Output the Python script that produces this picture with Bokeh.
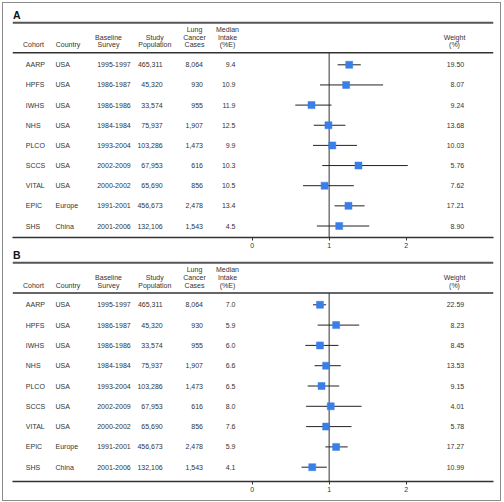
from bokeh.plotting import figure
from bokeh.models import Range1d, LinearAxis, FixedTicker, Span
from bokeh.layouts import column
from bokeh.core.properties import value
from bokeh.embed import file_html
from bokeh.resources import INLINE

# ---------------- data ----------------
cohorts = ["AARP", "HPFS", "IWHS", "NHS", "PLCO", "SCCS", "VITAL", "EPIC", "SHS"]
countries = ["USA", "USA", "USA", "USA", "USA", "USA", "USA", "Europe", "China"]
surveys = ["1995-1997", "1986-1987", "1986-1986", "1984-1984", "1993-2004",
           "2002-2009", "2000-2002", "1991-2001", "2001-2006"]
populations = ["465,311", "45,320", "33,574", "75,937", "103,286",
               "67,953", "65,690", "456,673", "132,106"]
cases = ["8,064", "930", "955", "1,907", "1,473", "616", "856", "2,478", "1,543"]

intake_a = ["9.4", "10.9", "11.9", "12.5", "9.9", "10.3", "10.5", "13.4", "4.5"]
weight_a = ["19.50", "8.07", "9.24", "13.68", "10.03", "5.76", "7.62", "17.21", "8.90"]
rr_a = [1.26, 1.22, 0.77, 0.99, 1.04, 1.38, 0.94, 1.25, 1.13]
lo_a = [1.11, 0.88, 0.56, 0.80, 0.79, 0.91, 0.66, 1.07, 0.84]
hi_a = [1.41, 1.70, 1.03, 1.21, 1.36, 2.02, 1.32, 1.46, 1.52]

intake_b = ["7.0", "5.9", "6.0", "6.6", "6.5", "8.0", "7.6", "5.9", "4.1"]
weight_b = ["22.59", "8.23", "8.45", "13.53", "9.15", "4.01", "5.78", "17.27", "10.99"]
rr_b = [0.88, 1.09, 0.88, 0.96, 0.90, 1.02, 0.96, 1.09, 0.78]
lo_b = [0.79, 0.85, 0.69, 0.81, 0.72, 0.70, 0.70, 0.95, 0.64]
hi_b = [0.96, 1.39, 1.12, 1.15, 1.13, 1.42, 1.29, 1.24, 0.97]

axis_ticks = [0, 1, 2]
null_effect = 1

headers = [["Cohort"], ["Country"], ["Baseline", "Survey"], ["Study", "Population"],
           ["Lung", "Cancer", "Cases"], ["Median", "Intake", "(%E)"], ["Weight", "(%)"]]

# ---------------- layout / style (page pixels) ----------------
FONT = "Liberation Sans"
FS = "7px"
TXT = "#333333"
BLUE = "#3a7ee8"
PX_PER_UNIT = 77.0
ZERO_PX = 251.7
OX, OY = 3, 3            # page offset of the whole layout (room for the frame line)
RIGHT, BOTTOM = 500, 500  # page right / bottom of the layout
FRAME_L, FRAME_R = 12, 493
head_x = [33, 67.5, 108, 154.3, 194, 227, 454]
col_x = [25.3, 55, 96.7, 162.2, 202.5, 235, 463.7]
col_align = ["left", "left", "left", "right", "right", "right", "right"]
HEAD_LINE = 7.7

panels = [
    dict(letter="A", top=OY, bottom=250, letter_y=14.3, rule_top=22.3, head_base=44.2,
         rule_head=52.3, row0=64.3, step=20.15, axis=237,
         intake=intake_a, weight=weight_a, rr=rr_a, lo=lo_a, hi=hi_a),
    dict(letter="B", top=250, bottom=BOTTOM, letter_y=254.2, rule_top=262.3, head_base=284.7,
         rule_head=292.5, row0=304.3, step=20.3, axis=481,
         intake=intake_b, weight=weight_b, rr=rr_b, lo=lo_b, hi=hi_b),
]


def make_panel(cfg):
    def u(px):
        return (px - cfg["row0"]) / cfg["step"]

    height = cfg["bottom"] - cfg["top"]
    mbb = cfg["bottom"] - cfg["axis"]
    p = figure(width=RIGHT - OX, height=height,
               x_range=Range1d(FRAME_L, FRAME_R),
               y_range=Range1d(u(cfg["axis"]), u(cfg["top"])),
               output_backend="svg", toolbar_location=None,
               x_axis_location=None, y_axis_location=None,
               min_border_left=FRAME_L - OX, min_border_right=RIGHT - FRAME_R,
               min_border_top=0, min_border_bottom=mbb,
               outline_line_color=None, background_fill_color="white",
               border_fill_color="white")
    p.grid.visible = False
    p.extra_x_ranges = {"hr": Range1d((FRAME_L - ZERO_PX) / PX_PER_UNIT,
                                      (FRAME_R - ZERO_PX) / PX_PER_UNIT)}

    ax = LinearAxis(x_range_name="hr", ticker=FixedTicker(ticks=axis_ticks),
                    axis_line_color="#333333", axis_line_width=1.5,
                    major_tick_line_color="#333333", major_tick_out=3, major_tick_in=0,
                    minor_tick_line_color=None,
                    major_label_text_font=FONT, major_label_text_font_size=FS,
                    major_label_text_color=TXT, major_label_standoff=2)
    p.add_layout(ax, "below")

    # rules
    p.add_layout(Span(location=u(cfg["rule_top"]), dimension="width",
                      line_color="#555555", line_width=2))
    p.add_layout(Span(location=u(cfg["rule_head"]), dimension="width",
                      line_color="#333333", line_width=1.5))

    # panel letter
    p.text(x=[FRAME_L + 0.5], y=[u(cfg["letter_y"])], text=[cfg["letter"]],
           text_font=value(FONT), text_font_size="10.5px", text_font_style="bold",
           text_color="#111111", text_align="left", text_baseline="middle")

    # headers
    hx, hy, ht = [], [], []
    for x, lines in zip(head_x, headers):
        n = len(lines)
        for k, t in enumerate(lines):
            hx.append(x)
            hy.append(u(cfg["head_base"] - (n - 1 - k) * HEAD_LINE))
            ht.append(t)
    p.text(x=hx, y=hy, text=ht, text_font=value(FONT), text_font_size=FS,
           text_color=TXT, text_align="center", text_baseline="middle")

    # table body
    rows = list(range(len(cohorts)))
    cols = [cohorts, countries, surveys, populations, cases, cfg["intake"], cfg["weight"]]
    for x, al, vals in zip(col_x, col_align, cols):
        p.text(x=[x] * len(vals), y=rows, text=vals, text_font=value(FONT),
               text_font_size=FS, text_color=TXT, text_align=al, text_baseline="middle")

    # reference line at 1
    p.segment(x0=[null_effect], y0=[u(cfg["rule_head"])], x1=[null_effect], y1=[u(cfg["axis"])],
              x_range_name="hr", line_color="#777777", line_width=1.5)

    # CIs and estimates
    p.segment(x0=cfg["lo"], y0=rows, x1=cfg["hi"], y1=rows, x_range_name="hr",
              line_color="#222222", line_width=1)
    p.scatter(x=cfg["rr"], y=rows, marker="square", size=7, x_range_name="hr",
              fill_color=BLUE, line_color=BLUE, line_width=0.5)
    return p


figs = [make_panel(c) for c in panels]
layout = column(*figs, spacing=0,
                styles={"margin": f"{OY}px 0 0 {OX}px",
                        "outline": "1.5px solid #8c8c8c"})

open("out.html", "w").write(file_html(layout, INLINE))
